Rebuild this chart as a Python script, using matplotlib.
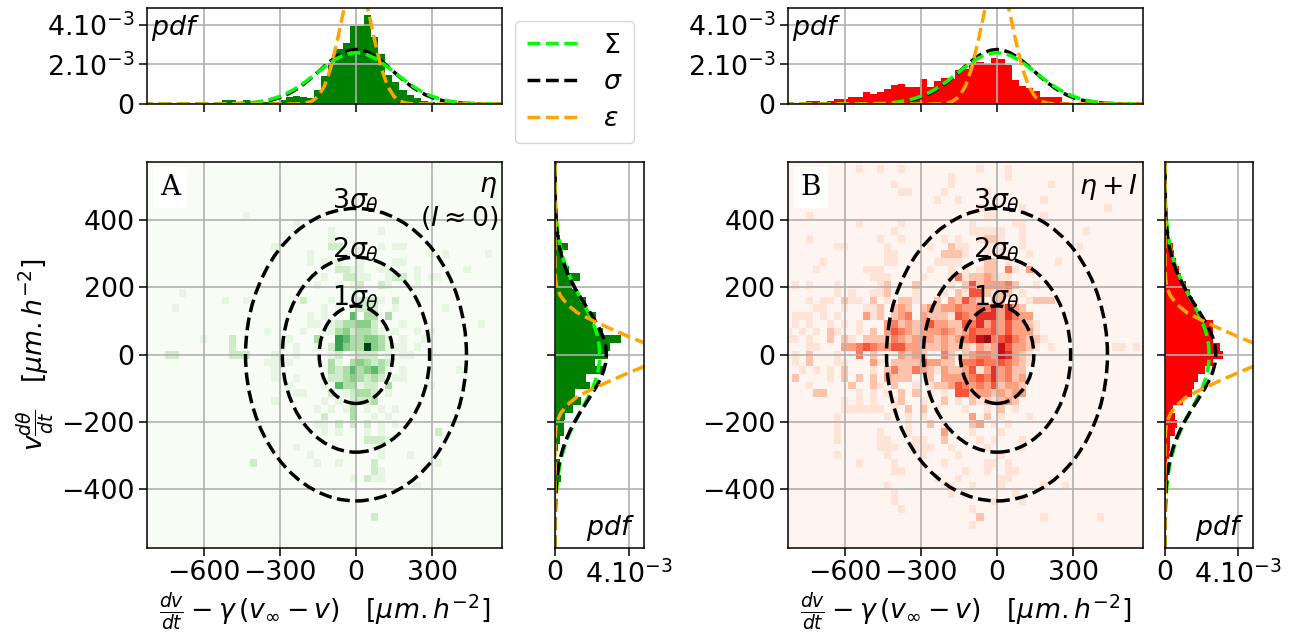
import numpy as np
import matplotlib.pyplot as plt
from matplotlib.lines import Line2D
from matplotlib.patches import Ellipse

# bins of the 2d maps and of the histograms
x_start, x_width = -837, 28
y_start, y_width = 586.5, -23
n_bins = 51

# marginal on the x axis (pdf x 1e3), one value per bin
top_a = [0.02, 0.02, 0.03, 0.03, 0.02, 0.02, 0.02, 0.02, 0.02, 0.02, 0.03, 0.2, 0.22, 0.1, 0.22, 0.15, 0.1,
         0.1, 0.1, 0.2, 0.34, 0.4, 0.34, 0.29, 0.71, 1.41, 2.05, 2.76, 3.09, 3.93, 3.93, 4.49, 3.36, 2.5,
         1.46, 1.13, 0.71, 0.45, 0.29, 0.15, 0.1, 0.03, 0.03, 0.02, 0.02, 0.01, 0.01, 0.01, 0.01, 0.0, 0.0]
top_b = [0.02, 0.02, 0.06, 0.15, 0.15, 0.12, 0.15, 0.23, 0.23, 0.34, 0.34, 0.59, 0.5, 0.59, 0.74, 0.96, 0.99,
         0.87, 0.84, 1.24, 0.87, 1.16, 1.29, 1.24, 1.71, 1.75, 2.05, 2.13, 2.02, 2.3, 2.27, 1.97, 1.21, 0.91,
         0.79, 0.67, 0.34, 0.34, 0.34, 0.1, 0.05, 0.03, 0.03, 0.02, 0.02, 0.02, 0.01, 0.01, 0.01, 0.01, 0.0]

# marginal on the y axis (pdf x 1e3), from the top bin down
side_a = [0.0, 0.0, 0.0, 0.0, 0.0, 0.0, 0.0, 0.16, 0.07, 0.07, 0.25, 0.7, 0.43, 0.52, 0.76, 1.37, 0.9, 1.25,
          1.7, 1.7, 2.24, 2.06, 2.6, 3.6, 3.0, 2.87, 2.15, 2.6, 1.7, 1.88, 1.07, 1.43, 0.98, 0.52, 0.47, 0.47,
          0.25, 0.16, 0.07, 0.29, 0.07, 0.34, 0.03, 0.03, 0.02, 0.02, 0.02, 0.0, 0.0, 0.0, 0.0]
side_b = [0.0, 0.07, 0.07, 0.07, 0.07, 0.07, 0.07, 0.07, 0.07, 0.1, 0.24, 0.46, 0.5, 0.6, 0.79, 0.9, 1.15, 1.38,
          1.56, 1.74, 2.0, 2.66, 2.66, 2.66, 3.0, 3.17, 2.66, 2.2, 1.83, 1.6, 1.47, 1.0, 0.46, 0.55, 0.64, 0.55,
          0.27, 0.27, 0.24, 0.13, 0.18, 0.18, 0.07, 0.06, 0.06, 0.05, 0.05, 0.04, 0.03, 0.0, 0.0]

# fitted curves, read every 25 units from the center outwards (pdf x 1e3)
curve_u = [0, 25, 50, 75, 100, 125, 150, 175, 200, 225, 250, 275, 300, 325, 350, 375, 400, 425, 450, 500, 550, 600, 850]
sigma_top = [2.751, 2.71, 2.592, 2.407, 2.169, 1.897, 1.611, 1.328, 1.063, 0.825, 0.622, 0.456, 0.324, 0.223, 0.149,
             0.097, 0.061, 0.038, 0.022, 0.007, 0.002, 0.0, 0.0]
big_sigma_top = [2.59, 2.556, 2.457, 2.3, 2.098, 1.863, 1.612, 1.358, 1.114, 0.891, 0.694, 0.526, 0.388, 0.279, 0.196,
                 0.134, 0.089, 0.057, 0.036, 0.013, 0.004, 0.001, 0.0]
eps_top = [6.33, 5.85, 4.62, 3.12, 1.8, 0.884, 0.372, 0.134, 0.041, 0.011, 0.002, 0.0, 0.0, 0.0, 0.0,
           0.0, 0.0, 0.0, 0.0, 0.0, 0.0, 0.0, 0.0]
sigma_side = [2.79, 2.75, 2.63, 2.44, 2.19, 1.91, 1.62, 1.33, 1.063, 0.825, 0.622, 0.456, 0.324, 0.223, 0.149,
              0.097, 0.061, 0.038, 0.022, 0.007, 0.002, 0.0, 0.0]
big_sigma_side = [2.42, 2.4, 2.33, 2.2, 2.03, 1.81, 1.57, 1.32, 1.08, 0.86, 0.67, 0.51, 0.38, 0.279, 0.196,
                  0.134, 0.089, 0.057, 0.036, 0.013, 0.004, 0.001, 0.0]
eps_side = [5.9, 5.3, 4.16, 3.11, 2.1, 1.2, 0.65, 0.3, 0.1, 0.03, 0.005, 0.0, 0.0, 0.0, 0.0,
            0.0, 0.0, 0.0, 0.0, 0.0, 0.0, 0.0, 0.0]

sigma_theta = 145
ellipse_levels = [1, 2, 3]

# 2d map cells: (row from the top, first column, levels 0-9 of the following columns)
cells_a = [
    (7, 14, "1"), (8, 21, "1"), (9, 26, "1"), (9, 33, "1"), (10, 26, "1"),
    (11, 18, "1"), (11, 26, "22"), (11, 30, "1"), (11, 33, "101"), (11, 36, "1"),
    (12, 23, "1"), (12, 28, "1"), (12, 40, "1"), (12, 42, "1"), (12, 48, "1"),
    (13, 23, "10101"), (13, 30, "1"), (13, 35, "11"),
    (14, 27, "2211"), (14, 33, "11"), (14, 38, "1"), (14, 45, "1"),
    (15, 25, "1"), (15, 28, "2211"), (15, 34, "122"), (15, 38, "1"), (15, 40, "11"),
    (16, 24, "1"), (16, 27, "1"), (16, 29, "12"), (16, 33, "21"), (16, 38, "1"),
    (17, 5, "1"), (18, 11, "1"), (18, 14, "1"), (18, 22, "2"), (18, 26, "1"), (18, 30, "2221"), (18, 35, "2"),
    (19, 4, "1"), (19, 25, "101"), (19, 30, "222"), (19, 35, "1"), (19, 42, "1"),
    (20, 23, "101"), (20, 29, "5033"), (20, 34, "3"),
    (21, 23, "11"), (21, 26, "1233"), (21, 30, "442"), (21, 36, "1"), (21, 47, "1"),
    (22, 17, "1"), (22, 22, "1"), (22, 25, "1134233210"), (22, 35, "1"), (22, 38, "1"), (22, 40, "1"),
    (23, 8, "1"), (23, 12, "2"), (23, 20, "1"), (23, 24, "3"), (23, 27, "653344310"), (23, 36, "1"), (23, 39, "1"),
    (24, 12, "2"), (24, 19, "101"), (24, 24, "1"), (24, 26, "2643394311"), (24, 36, "1"), (24, 38, "1"),
    (25, 3, "22"), (25, 12, "222"), (25, 18, "1"), (25, 21, "1"), (25, 26, "12"), (25, 29, "12220"), (25, 34, "1"), (25, 36, "11"),
    (26, 17, "11"), (26, 20, "1"), (26, 26, "31034323"), (26, 34, "2"),
    (27, 18, "1"), (27, 26, "323534531"), (27, 36, "1"), (27, 44, "1"),
    (28, 18, "1"), (28, 21, "1"), (28, 26, "22343232"), (28, 35, "11"),
    (29, 20, "1"), (29, 25, "1053312203"), (29, 40, "1"),
    (30, 21, "11"), (30, 26, "2012332"), (30, 34, "1"),
    (31, 18, "1"), (31, 25, "1010"), (31, 29, "2223"),
    (32, 24, "1"), (32, 26, "1013010"), (32, 33, "1"), (32, 35, "1"),
    (33, 25, "2"), (33, 29, "3"), (33, 32, "1"), (33, 34, "1"),
    (34, 24, "11"), (34, 27, "2"), (34, 29, "2"), (34, 31, "2"), (34, 33, "1"), (34, 35, "1"),
    (35, 25, "1"), (35, 27, "1"), (35, 31, "1"), (35, 33, "1"), (35, 41, "2"),
    (36, 31, "222"), (36, 34, "1"), (37, 21, "1"), (37, 32, "11"),
    (38, 23, "1"), (38, 33, "1"), (38, 37, "1"),
    (39, 15, "2"), (39, 24, "1"), (39, 27, "1"), (39, 32, "2"), (39, 41, "1"),
    (40, 32, "21"), (41, 29, "1"), (41, 31, "211"), (42, 38, "1"), (46, 32, "2"),
]
cells_b = [
    (1, 10, "1"), (1, 13, "1"), (1, 16, "1"), (1, 27, "1"), (1, 31, "1"),
    (2, 23, "1"), (2, 31, "1"), (3, 15, "1"), (3, 23, "1"), (3, 37, "1"),
    (4, 16, "11"), (4, 22, "1"), (4, 28, "1"), (5, 21, "1"), (5, 24, "1"), (5, 36, "1"),
    (6, 27, "1"), (6, 33, "1"), (6, 45, "1"), (7, 3, "1"), (7, 28, "11"), (7, 36, "1"),
    (8, 10, "1"), (8, 16, "1"), (8, 26, "1"), (8, 32, "11"),
    (9, 15, "1"), (9, 26, "11"), (9, 28, "111"), (9, 33, "1"), (9, 42, "1"),
    (10, 3, "1"), (10, 13, "1"), (10, 16, "1"), (10, 22, "1"), (10, 24, "1"), (10, 27, "1221"), (10, 33, "1"),
    (11, 7, "11"), (11, 14, "1"), (11, 20, "1"), (11, 23, "211"), (11, 28, "1"), (11, 30, "1"), (11, 33, "1"), (11, 41, "1"),
    (12, 14, "11"), (12, 22, "2221"), (12, 28, "1"), (12, 30, "1"), (12, 34, "1"),
    (13, 5, "1"), (13, 14, "11"), (13, 21, "111"), (13, 24, "1"), (13, 28, "22"), (13, 31, "1"), (13, 38, "1"),
    (14, 4, "1"), (14, 11, "111"), (14, 20, "1"), (14, 23, "1"), (14, 25, "1"), (14, 27, "12204103"),
    (15, 12, "111"), (15, 19, "1"), (15, 23, "141223211"),
    (16, 1, "101"), (16, 7, "1"), (16, 13, "12"), (16, 18, "2"), (16, 23, "1025233342"), (16, 35, "1"),
    (17, 7, "101"), (17, 12, "112"), (17, 18, "1"), (17, 22, "1021552122"), (17, 33, "1"),
    (18, 3, "10110211"), (18, 12, "201"), (18, 16, "221"), (18, 21, "2032532022"), (18, 32, "1"), (18, 34, "1222"),
    (19, 4, "11"), (19, 8, "1"), (19, 11, "112023"), (19, 17, "2023"), (19, 21, "2334334463632"),
    (20, 1, "111"), (20, 5, "101"), (20, 11, "312"), (20, 15, "234"), (20, 19, "322215436663643"), (20, 34, "3"),
    (21, 1, "101"), (21, 6, "10101"), (21, 14, "3423235332254635353321"),
    (22, 0, "10101"), (22, 6, "21"), (22, 10, "1"), (22, 12, "2"), (22, 14, "35432333432354453533310"),
    (23, 0, "11"), (23, 3, "1"), (23, 6, "2"), (23, 8, "21"), (23, 11, "22224323332323457845643221"),
    (24, 3, "11"), (24, 8, "3345433553322232221323753321"), (24, 37, "1"), (24, 46, "11"), (24, 49, "1"),
    (25, 1, "1"), (25, 3, "2"), (25, 7, "1"), (25, 10, "4"), (25, 12, "2"), (25, 16, "3232"), (25, 22, "42"),
    (25, 25, "2344376321"),
    (26, 1, "1"), (26, 3, "2"), (26, 7, "11"), (26, 12, "31"), (26, 15, "22225332"), (26, 23, "2"), (26, 25, "4454454321"),
    (27, 2, "1"), (27, 4, "1"), (27, 6, "1"), (27, 8, "2"), (27, 12, "1"), (27, 14, "24224321322351363422"),
    (28, 1, "2"), (28, 6, "1"), (28, 8, "2"), (28, 10, "2"), (28, 12, "2"), (28, 14, "3222"), (28, 20, "2"),
    (28, 22, "333345463423"),
    (29, 3, "1"), (29, 9, "2"), (29, 12, "21"), (29, 15, "2"), (29, 18, "1"), (29, 20, "12235434352332"),
    (30, 4, "22"), (30, 10, "1"), (30, 12, "1"), (30, 14, "1"), (30, 16, "2"), (30, 18, "2"), (30, 20, "1"), (30, 22, "1"),
    (30, 24, "5523323233"),
    (31, 8, "1"), (31, 10, "1"), (31, 12, "1"), (31, 15, "12"), (31, 19, "1"), (31, 22, "2"), (31, 24, "1"), (31, 26, "2121232"),
    (32, 8, "11111"), (32, 13, "1"), (32, 15, "1"), (32, 17, "2"), (32, 19, "2"), (32, 21, "1"), (32, 25, "1"), (32, 28, "1"), (32, 30, "2"), (32, 32, "1"),
    (33, 7, "1"), (33, 14, "1"), (33, 17, "1"), (33, 19, "1"), (33, 26, "3"), (33, 28, "2"), (33, 30, "1"), (33, 34, "1"),
    (34, 7, "1"), (34, 17, "1"), (34, 20, "2"), (34, 22, "1"), (34, 26, "23"), (34, 29, "1"), (34, 31, "1"),
    (35, 7, "1"), (35, 13, "1"), (35, 17, "1"), (35, 22, "3"), (35, 26, "1"), (35, 30, "1"),
    (36, 7, "1"), (36, 13, "11"), (36, 18, "11"), (36, 22, "2"), (36, 27, "1"), (36, 29, "1"), (36, 33, "1"),
    (37, 13, "111"), (37, 18, "111"), (37, 23, "1"), (37, 28, "1"), (37, 33, "1"),
    (38, 7, "1"), (38, 14, "1"), (38, 19, "1"), (38, 24, "1"), (38, 30, "1"),
    (39, 10, "1"), (39, 15, "1"), (39, 22, "1"), (39, 28, "11"), (39, 31, "1"),
    (40, 15, "11"), (40, 25, "1"), (40, 28, "1"), (40, 31, "11"),
    (41, 21, "1"), (41, 24, "1"), (41, 30, "11"),
    (42, 14, "1"), (42, 22, "11"), (42, 26, "1"), (42, 30, "1"), (42, 36, "1"), (42, 39, "1"),
    (43, 15, "1"), (43, 23, "1"), (43, 25, "1"), (43, 32, "1"),
    (44, 15, "1"), (44, 29, "1"), (44, 33, "1"), (45, 16, "1"), (45, 26, "1"),
    (46, 27, "2"), (46, 36, "1"), (46, 44, "1"), (47, 26, "1"),
]

x_ticks = [-600, -300, 0, 300]
y_ticks = [-400, -200, 0, 200, 400]
xlim = (-823, 575)
ylim = (-575, 573)
pdf_top_lim = 4.84
pdf_side_lim = 4.83

W, H = 1299, 641
plt.rcParams["font.size"] = 19.3
plt.rcParams["mathtext.fontset"] = "dejavusans"
plt.rcParams["axes.linewidth"] = 1.1
plt.rcParams["grid.color"] = "#b0b0b0"
plt.rcParams["grid.linewidth"] = 1.2
plt.rcParams["xtick.major.size"] = 5.5
plt.rcParams["ytick.major.size"] = 5.5
plt.rcParams["xtick.major.width"] = 1.1
plt.rcParams["ytick.major.width"] = 1.1

fig = plt.figure(figsize=(W / 100, H / 100), dpi=100)


def add_ax(left, right, top, bottom):
    """axes from pixel edges of the picture"""
    return fig.add_axes([left / W, 1 - bottom / H, (right - left) / W, (bottom - top) / H])


def mirrored(values):
    arr = np.asarray(values) * 1e-3
    return np.r_[arr[:0:-1], arr]


u_full = np.r_[-np.asarray(curve_u)[:0:-1], curve_u]
x_edges = x_start + x_width * np.arange(n_bins + 1)
y_edges = y_start + y_width * np.arange(n_bins + 1)


def top_panel(ax, hist, color):
    ax.bar(x_edges[:-1], np.asarray(hist) * 1e-3, width=x_width, align="edge", color=color)
    ax.plot(u_full, mirrored(sigma_top), "--", color="black", lw=2.5)
    ax.plot(u_full, mirrored(big_sigma_top), "--", color="lime", lw=2.5)
    ax.plot(u_full, mirrored(eps_top), "--", color="orange", lw=2.5)
    ax.set_xlim(xlim)
    ax.set_ylim(0, pdf_top_lim * 1e-3)
    ax.set_xticks(x_ticks)
    ax.set_xticklabels([])
    ax.set_yticks([0, 2e-3, 4e-3])
    ax.set_yticklabels(["0", r"$2.10^{-3}$", r"$4.10^{-3}$"])
    ax.grid(True)
    ax.text(0.01, 0.95, r"$pdf$", transform=ax.transAxes, ha="left", va="top")


def side_panel(ax, hist, color):
    ax.barh(y_edges[:-1], np.asarray(hist) * 1e-3, height=y_width, align="edge", color=color)
    ax.plot(mirrored(big_sigma_side), u_full, "--", color="lime", lw=2.5)
    ax.plot(mirrored(sigma_side), u_full, "--", color="black", lw=2.5)
    ax.plot(mirrored(eps_side), u_full, "--", color="orange", lw=2.5)
    ax.set_ylim(ylim)
    ax.set_xlim(0, pdf_side_lim * 1e-3)
    ax.set_yticks(y_ticks)
    ax.set_yticklabels([])
    ax.set_xticks([0, 4e-3])
    ax.set_xticklabels(["0", r"$4.10^{-3}$"])
    ax.grid(True)
    ax.text(0.9, 0.012, r"$pdf$", transform=ax.transAxes, ha="right", va="bottom")


def main_panel(ax, cells, cmap, letter):
    grid = np.zeros((n_bins, n_bins))
    for row, col, levels in cells:
        for k, level in enumerate(levels):
            grid[row, col + k] = int(level)
    ax.pcolormesh(x_edges, y_edges, grid, cmap=cmap, vmin=0, vmax=9)
    for n in ellipse_levels:
        ax.add_patch(Ellipse((0, 0), 2 * n * sigma_theta, 2 * n * sigma_theta, fill=False,
                             ec="black", ls="--", lw=2.5, zorder=3))
        ax.text(0, n * sigma_theta, rf"${n}\sigma_\theta$", ha="center", va="baseline", zorder=4)
    ax.set_xlim(xlim)
    ax.set_ylim(ylim)
    ax.set_xticks(x_ticks)
    ax.set_yticks(y_ticks)
    ax.grid(True)
    ax.text(0.065, 0.935, letter, transform=ax.transAxes, ha="center", va="center", family="DejaVu Serif",
            fontsize=20, bbox=dict(fc="white", ec="none", pad=5))
    ax.set_xlabel(r"$\frac{dv}{dt}-\gamma\,(v_\infty-v)$   [$\mu m.h^{-2}$]", labelpad=3)


ax_a = add_ax(147, 502, 162, 548)
main_panel(ax_a, cells_a, "Greens", "A")
ax_a.text(0.985, 0.935, r"$\eta$", transform=ax_a.transAxes, ha="right", va="center")
ax_a.text(0.99, 0.855, r"$(I\approx 0)$", transform=ax_a.transAxes, ha="right", va="center")
ax_a.set_ylabel(r"$v\frac{d\theta}{dt}$   [$\mu m.h^{-2}$]", labelpad=3)

ax_b = add_ax(788, 1143, 162, 548)
main_panel(ax_b, cells_b, "Reds", "B")
ax_b.text(0.985, 0.935, r"$\eta+I$", transform=ax_b.transAxes, ha="right", va="center")

top_panel(add_ax(147, 502, 8, 104), top_a, "green")
top_panel(add_ax(788, 1143, 8, 104), top_b, "red")
side_panel(add_ax(555, 644, 162, 548), side_a, "green")
side_panel(add_ax(1165, 1253, 162, 548), side_b, "red")

handles = [Line2D([], [], ls="--", color="lime", lw=2.5),
           Line2D([], [], ls="--", color="black", lw=2.5),
           Line2D([], [], ls="--", color="orange", lw=2.5)]
fig.legend(handles, [r"$\Sigma$", r"$\sigma$", r"$\varepsilon$"], loc="upper left",
           bbox_to_anchor=(515 / W, 1 - 21 / H), bbox_transform=fig.transFigure, borderaxespad=0,
           labelspacing=0.4, handlelength=1.95, handletextpad=0.9, borderpad=0.43)

fig.savefig("out.png", dpi=100)
